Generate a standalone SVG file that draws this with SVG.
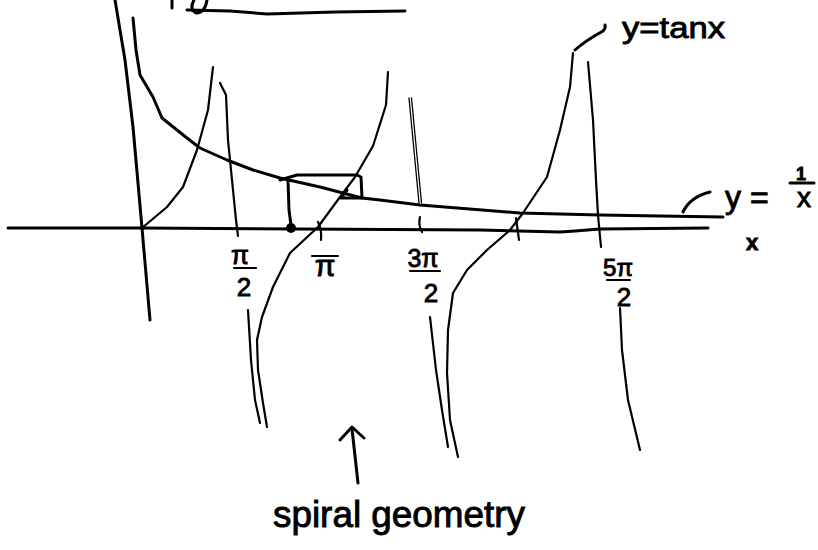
<svg xmlns="http://www.w3.org/2000/svg" width="818" height="550" viewBox="0 0 818 550">
<style>
.ink{fill:none;stroke:#000;stroke-width:3;stroke-linecap:round;stroke-linejoin:round}
.thin{fill:none;stroke:#000;stroke-width:2.2;stroke-linecap:round;stroke-linejoin:round}
.hair{fill:none;stroke:#000;stroke-width:1.3;stroke-linecap:round;stroke-linejoin:round}
.lbl{font-family:"Liberation Sans","DejaVu Sans",sans-serif;fill:#000;stroke:#000;stroke-width:0.9}
</style>
<rect width="818" height="550" fill="#fff"/>

<g id="top-fragment">
<path class="ink" d="M172,0 L172,8"/>
<path class="ink" d="M194,0 Q189,9 196,13 Q205,13 207,0"/>
<path class="ink" d="M187,10 L230,11 L267,14 L335,12 L405,11"/>
</g>

<g id="axes">
<path class="ink" d="M8,228 L140,228 L300,229 L480,230 L560,232 L575,231 L600,229 L708,228"/>
<path class="ink" d="M115,0 L125,60 L133,127 L142,228 L150,320"/>
</g>

<g id="recip-curve">
<path class="ink" d="M133,18 L136,50 L140,75 L153,97 L162,118 L187,138 L200,148 L227,160 L253,170 L280,178 L320,187 L362,198 L380,200 L420,205 L520,213 L600,215 L660,216 L723,217"/>
<path class="ink" d="M683,212 Q690,197 710,192"/>
</g>

<g id="tan-curves">
<path class="thin" d="M142,228 L167,207 L183,187 L197,150 L208,110 L213,67"/>
<path class="thin" d="M388,72 L386,105 L373,146 L355,177 L340,197 L318,227 L290,253 L273,287 L262,317 L257,340 L258,370 L263,403 L267,427"/>
<path class="thin" d="M573,53 L570,87 L560,130 L547,177 L523,213 L510,230 L487,250 L467,270 L453,293 L448,330 L447,373 L450,420 L458,457"/>
<path class="ink" d="M575,50 Q585,41 603,31 Q606,28 605,25"/>
</g>

<g id="asymptotes">
<path class="thin" d="M220,83 L226,95 L228,140 L232,180 L236,220 L238,236"/>
<path class="thin" d="M248,310 L251,360 L255,400 L260,423"/>
<path class="hair" d="M409,98 L419,203"/>
<path class="hair" d="M411.5,98 L421.5,203"/>
<path class="thin" d="M420,217 Q418,225 422,232"/>
<path class="thin" d="M430,317 L436,370 L442,410 L448,447"/>
<path class="thin" d="M588,62 L593,120 L596,180 L598,215 L601,247"/>
<path class="thin" d="M620,308 L622,350 L628,400 L640,450"/>
<path class="thin" d="M318,222 Q322,230 321,240"/>
<path class="thin" d="M516,218 L519,240"/>
</g>

<g id="cobweb">
<path class="ink" d="M280,180 L297,175 L357,175 L361,177 L362,198 L352,198 L341,198 L347,190"/>
<path class="ink" d="M288,180 L289,210 L291,225"/>
<circle cx="291" cy="228" r="5" fill="#000"/>
</g>

<g id="tick-labels">
<text class="lbl" x="240" y="264" font-size="26" text-anchor="middle">π</text>
<path class="thin" d="M234,268 L256,268"/>
<text class="lbl" x="244" y="296" font-size="26" text-anchor="middle">2</text>
<text class="lbl" x="325" y="276" font-size="30" text-anchor="middle">π</text>
<path class="thin" d="M312,256 L338,256"/>
<text class="lbl" x="423" y="267" font-size="25" text-anchor="middle">3π</text>
<path class="thin" d="M410,271 L440,271"/>
<text class="lbl" x="431" y="302" font-size="26" text-anchor="middle">2</text>
<text class="lbl" x="618" y="276" font-size="24" text-anchor="middle">5π</text>
<path class="thin" d="M607,280 L630,280"/>
<text class="lbl" x="624" y="306" font-size="26" text-anchor="middle">2</text>
<text class="lbl" x="752" y="250" font-size="22" font-weight="bold" text-anchor="middle">x</text>
</g>

<g id="curve-labels">
<text class="lbl" x="622" y="38" font-size="30" textLength="103" lengthAdjust="spacingAndGlyphs">y=tanx</text>
<text class="lbl" x="725" y="208" font-size="32">y =</text>
<text class="lbl" x="801" y="180" font-size="18" font-weight="bold" text-anchor="middle">1</text>
<path class="ink" d="M790,183 L814,183"/>
<text class="lbl" x="804" y="207" font-size="28" text-anchor="middle">x</text>
</g>

<g id="annotation">
<path class="ink" d="M358,483 L352,429"/>
<path class="ink" d="M340,440 L352,427 L364,438"/>
<text class="lbl" x="273" y="527" font-size="36" textLength="252" lengthAdjust="spacingAndGlyphs">spiral geometry</text>
</g>
</svg>
